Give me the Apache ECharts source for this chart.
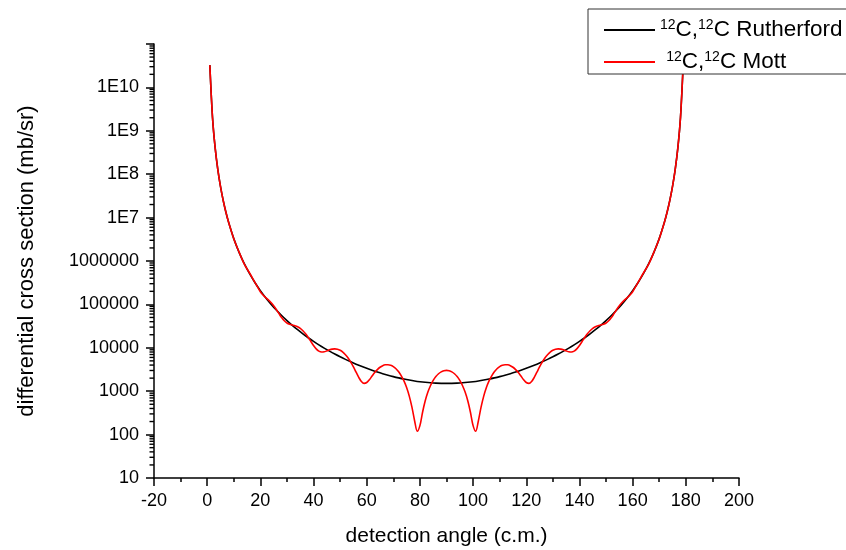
<!DOCTYPE html>
<html>
<head>
<meta charset="utf-8">
<script src="https://cdn.jsdelivr.net/npm/echarts@6/dist/echarts.min.js"></script>
<style>
  html, body { margin: 0; padding: 0; background: #fff; }
  #chart { width: 846px; height: 550px; }
</style>
</head>
<body>
<div id="chart"></div>
<script>
// detection angle (c.m.) for the Rutherford curve
const rutherfordAngle = [
  1, 2, 3, 4, 5, 6, 7, 8, 10, 12, 14, 16, 18, 20, 22, 24, 26, 28, 30, 32, 34, 36, 38, 40,
  42, 44, 46, 48, 50, 52, 54, 56, 58, 60, 62, 64, 66, 68, 70, 72, 74, 76, 78, 80, 82, 84, 86, 88, 90,
  92, 94, 96, 98, 100, 102, 104, 106, 108, 110, 112, 114, 116, 118, 120, 122, 124, 126, 128, 130,
  132, 134, 136, 138, 140, 142, 144, 146, 148, 150, 152, 154, 156, 158, 160, 162, 164, 166, 168, 170,
  172, 173, 174, 175, 176, 177, 178, 179
];
// mb/sr
const rutherfordValue = [
  3.259e10, 2.0373e9, 4.025e8, 1.27407e8, 5.2209e7, 2.5193e7, 1.36074e7, 7.9824e6, 3275600, 1583350,
  857000, 503970, 315800, 208070, 142790, 101340, 74020, 55390, 42336, 32963, 26092, 20958, 17059, 14054,
  11708, 9853, 8372, 7177, 6205, 5408, 4749, 4202, 3744, 3360, 3036, 2762, 2530, 2333, 2166, 2025,
  1905, 1806, 1723, 1656, 1603, 1562, 1534, 1518, 1512,
  1518, 1534, 1562, 1603, 1656, 1723, 1806, 1905, 2025, 2166, 2333, 2530, 2762, 3036, 3360, 3744,
  4202, 4749, 5408, 6205, 7177, 8372, 9853, 11708, 14054, 17059, 20958, 26092, 32963, 42336, 55390,
  74020, 101340, 142790, 208070, 315800, 503970, 857000, 1583350, 3275600,
  7.9824e6, 1.36074e7, 2.5193e7, 5.2209e7, 1.27407e8, 4.025e8, 2.0373e9, 3.259e10
];

// detection angle (c.m.) for the Mott curve
const mottAngle = [
  1, 2, 3, 4, 5, 6, 7, 8, 10, 12, 14, 16, 18,
  20, 21, 22, 23, 24, 25, 26, 27, 28, 29, 30, 31, 32, 33, 34, 35, 36, 37, 38, 39,
  40, 41, 42, 43, 44, 45, 46, 47, 48, 49, 50, 51, 52, 53, 54, 55, 56, 57, 58, 59,
  60, 61, 62, 63, 64, 65, 66, 67, 68, 69, 70, 71, 72, 73, 74, 75, 76, 77, 78, 79,
  80, 81, 82, 83, 84, 85, 86, 87, 88, 89, 90, 91, 92, 93, 94, 95, 96, 97, 98, 99,
  100, 101, 102, 103, 104, 105, 106, 107, 108, 109, 110, 111, 112, 113, 114, 115, 116, 117, 118, 119,
  120, 121, 122, 123, 124, 125, 126, 127, 128, 129, 130, 131, 132, 133, 134, 135, 136, 137, 138, 139,
  140, 141, 142, 143, 144, 145, 146, 147, 148, 149, 150, 151, 152, 153, 154, 155, 156, 157, 158, 159,
  160, 162, 164, 166, 168, 170, 172, 173, 174, 175, 176, 177, 178, 179
];
const mottValue = [
  3.26e10, 2.0375e9, 4.026e8, 1.2745e8, 5.2368e7, 2.5099e7, 1.36193e7, 8.0408e6, 3258700, 1600200,
  833790, 521530, 317650,
  195160, 163940, 143550, 127040, 110480, 93130, 76150, 61250, 49710, 41873, 37269, 34876, 33553,
  32302, 30508, 27923, 24644, 20966, 17288, 13982,
  11317, 9442, 8363, 7974, 8086, 8488, 8962, 9325, 9450, 9262, 8748, 7948, 6938, 5813, 4677, 3627,
  2744, 2083, 1672, 1512,
  1584, 1841, 2229, 2686, 3147, 3560, 3873, 4052, 4080, 3952, 3678, 3284, 2799, 2266, 1724, 1213,
  771, 430, 209, 119,
  161, 328, 601, 954, 1356, 1774, 2174, 2523, 2794, 2965, 3024, 2965, 2794, 2523, 2174, 1774, 1356,
  954, 601, 328,
  161, 119, 209, 430, 771, 1213, 1724, 2266, 2799, 3284, 3678, 3952, 4080, 4052, 3873, 3560, 3147,
  2686, 2229, 1841,
  1584, 1512, 1672, 2083, 2744, 3627, 4677, 5813, 6938, 7948, 8748, 9262, 9450, 9325, 8962, 8488,
  8086, 7974, 8363, 9442,
  11317, 13982, 17288, 20966, 24644, 27923, 30508, 32302, 33553, 34876, 37269, 41873, 49710, 61250,
  76150, 93130, 110480, 127040, 143550, 163940,
  195160, 317650, 521530, 833790, 1600200, 3258700, 8.0408e6, 1.36193e7, 2.5099e7, 5.2368e7,
  1.2745e8, 4.026e8, 2.0375e9, 3.26e10
];

const seriesNames = ['12C,12C Rutherford', '12C,12C Mott'];

// y tick labels
const yLabelValues = [10, 100, 1000, 10000, 100000, 1000000, 1e7, 1e8, 1e9, 1e10];
const yLabelText = ['10', '100', '1000', '10000', '100000', '1000000', '1E7', '1E8', '1E9', '1E10'];

// log minor ticks at 2..9 of each decade
const minorTickValues = [];
for (let e = 1; e <= 10; e++) {
  for (let m = 2; m <= 9; m++) minorTickValues.push([-20, m * Math.pow(10, e)]);
}

const FONT = 'Liberation Sans';
const chart = echarts.init(document.getElementById('chart'));

chart.setOption({
  animation: false,
  backgroundColor: '#fff',
  textStyle: { fontFamily: FONT, color: '#000' },
  grid: { left: 154, right: 107, top: 44, bottom: 72, containLabel: false, outerBoundsMode: 'none' },
  legend: {
    data: seriesNames,
    orient: 'vertical',
    left: 588,
    top: 9,
    padding: [9, 30, 0, 16],
    itemGap: 8,
    itemWidth: 51,
    itemHeight: 2,
    icon: 'rect',
    borderColor: '#333',
    borderWidth: 1,
    backgroundColor: '#fff',
    selectedMode: false,
    formatter: name => name === seriesNames[0]
      ? '{s|12}C,{s|12}C Rutherford'
      : ' {s|12}C,{s|12}C Mott',
    textStyle: {
      fontFamily: FONT,
      fontSize: 22.5,
      color: '#000',
      lineHeight: 24,
      rich: {
        s: { fontFamily: FONT, fontSize: 14, verticalAlign: 'top', lineHeight: 14, color: '#000' }
      }
    }
  },
  xAxis: {
    type: 'value',
    min: -20,
    max: 200,
    interval: 20,
    name: 'detection angle (c.m.)',
    nameLocation: 'middle',
    nameGap: 48,
    nameTextStyle: { fontFamily: FONT, fontSize: 21, color: '#000' },
    axisLine: { onZero: false, lineStyle: { color: '#000', width: 1.5 } },
    axisTick: { inside: false, length: 8, lineStyle: { color: '#000', width: 1.5 } },
    minorTick: { show: true, splitNumber: 2, length: 4, lineStyle: { color: '#000', width: 1.5 } },
    axisLabel: { fontFamily: FONT, fontSize: 18, color: '#000', margin: 14 },
    splitLine: { show: false }
  },
  yAxis: {
    type: 'log',
    logBase: 10,
    min: 10,
    max: 1e11,
    name: 'differential cross section (mb/sr)',
    nameLocation: 'middle',
    nameGap: 116,
    nameTextStyle: { fontFamily: FONT, fontSize: 22, color: '#000' },
    axisLine: { show: true, onZero: false, lineStyle: { color: '#000', width: 1.5 } },
    axisTick: {
      show: true,
      inside: false,
      length: 8,
      customValues: yLabelValues.concat([1e11]),
      lineStyle: { color: '#000', width: 1.5 }
    },
    axisLabel: {
      fontFamily: FONT,
      fontSize: 18,
      color: '#000',
      margin: 15,
      customValues: yLabelValues,
      formatter: v => {
        const i = yLabelValues.findIndex(t => Math.abs(Math.log10(t) - Math.log10(v)) < 0.01);
        return i < 0 ? '' : yLabelText[i];
      }
    },
    splitLine: { show: false }
  },
  series: [
    {
      name: 'minor ticks',
      type: 'custom',
      silent: true,
      clip: false,
      data: minorTickValues,
      encode: { x: 0, y: 1 },
      renderItem: (params, api) => {
        const p = api.coord([api.value(0), api.value(1)]);
        return {
          type: 'line',
          shape: { x1: p[0] - 4.5, y1: p[1], x2: p[0], y2: p[1] },
          style: { stroke: '#000', lineWidth: 1.4 }
        };
      }
    },
    {
      name: seriesNames[0],
      type: 'line',
      silent: true,
      showSymbol: false,
      symbol: 'none',
      smooth: 0.3,
      data: rutherfordAngle.map((a, i) => [a, rutherfordValue[i]]),
      lineStyle: { color: '#000', width: 1.6 },
      itemStyle: { color: '#000' }
    },
    {
      name: seriesNames[1],
      type: 'line',
      silent: true,
      showSymbol: false,
      symbol: 'none',
      smooth: 0.3,
      data: mottAngle.map((a, i) => [a, mottValue[i]]),
      lineStyle: { color: '#ff0000', width: 1.6 },
      itemStyle: { color: '#ff0000' }
    }
  ]
});
</script>
</body>
</html>
